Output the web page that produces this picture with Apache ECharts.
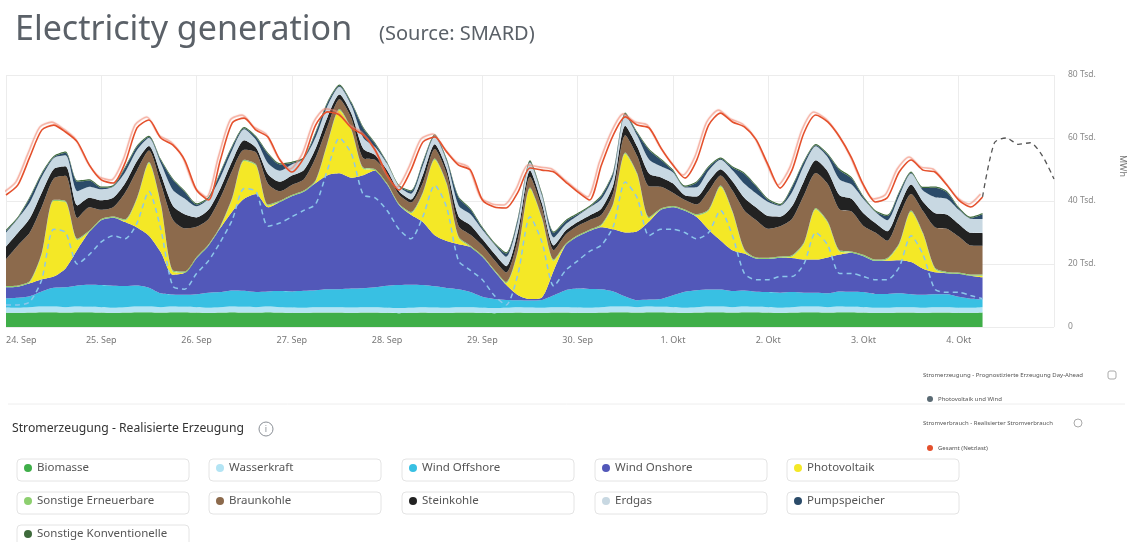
<!DOCTYPE html>
<html lang="de">
<head>
<meta charset="UTF-8">
<title>Electricity generation</title>
<script src="https://cdn.jsdelivr.net/npm/echarts@6.0.0/dist/echarts.min.js"></script>
<style>
  html, body { margin: 0; padding: 0; background: #fff; }
  #chart { width: 1134px; height: 542px; }
</style>
</head>
<body>
<div id="chart"></div>
<script>
// x axis: one category every 3 hours, 24 Sep 00:00 .. 5 Okt 00:00
var stepHours = 3;
var stepsPerDay = 8;
var dayLabels = ['24. Sep', '25. Sep', '26. Sep', '27. Sep', '28. Sep', '29. Sep', '30. Sep',
                 '1. Okt', '2. Okt', '3. Okt', '4. Okt', '5. Okt'];

// realisierte Erzeugung, Tsd. MWh
var biomasse = [4.5,4.5,4.6,4.7,4.7,4.6,4.7,4.7, 4.6,4.5,4.6,4.7,4.7,4.6,4.7,4.7, 4.6,4.5,4.6,4.7,4.6,4.6,4.7,4.6,
                4.5,4.5,4.6,4.6,4.6,4.5,4.6,4.6, 4.5,4.4,4.5,4.6,4.5,4.5,4.6,4.6, 4.5,4.4,4.5,4.6,4.5,4.5,4.6,4.6,
                4.5,4.5,4.6,4.7,4.7,4.6,4.7,4.7, 4.6,4.5,4.6,4.7,4.7,4.6,4.7,4.7, 4.6,4.5,4.6,4.7,4.7,4.6,4.7,4.7,
                4.6,4.5,4.5,4.6,4.6,4.5,4.6,4.6, 4.5,4.5,4.6];
var wasserkraft = [1.7,1.6,1.7,1.8,1.8,1.7,1.8,1.7, 1.7,1.6,1.7,1.8,1.8,1.7,1.8,1.7, 1.7,1.6,1.7,1.8,1.8,1.7,1.8,1.7,
                   1.7,1.6,1.7,1.7,1.7,1.7,1.7,1.7, 1.6,1.6,1.6,1.7,1.7,1.6,1.7,1.7, 1.6,1.6,1.6,1.7,1.7,1.6,1.7,1.7,
                   1.7,1.6,1.7,1.8,1.8,1.7,1.8,1.7, 1.7,1.6,1.7,1.8,1.8,1.7,1.8,1.7, 1.7,1.6,1.7,1.8,1.8,1.7,1.8,1.7,
                   1.7,1.6,1.6,1.7,1.7,1.6,1.7,1.7, 1.6,1.6,1.7];
var windOffshore = [2.9,3.2,3.5,4.8,6.0,6.3,6.7,7.0, 7.0,7.0,6.7,6.7,6.0,4.4,3.8,3.8, 4.1,4.8,4.8,5.1,5.1,4.8,4.8,5.1,
                    5.1,5.4,5.4,5.7,5.7,6.0,6.0,6.3, 7.0,7.3,7.3,7.0,6.7,6.3,5.7,4.8, 3.5,2.9,2.5,2.2,2.2,2.5,3.8,5.4,
                    6.0,6.0,5.7,4.8,3.2,2.2,2.2,2.5, 3.8,5.1,5.4,5.4,5.4,5.1,5.1,4.8, 4.8,4.8,4.8,4.4,4.4,4.4,4.8,4.8,
                    4.8,4.4,4.4,4.4,4.1,4.1,4.1,4.1, 3.5,2.9,2.5];
var windOnshore = [3.5,3.5,4.1,3.8,3.5,6.0,11.4,16.8, 20.6,21.6,20.3,18.4,16.5,13.0,6.3,7.0, 11.4,14.9,20.3,25.1,29.2,31.1,26.7,28.3,
                   30.2,31.4,34.0,36.2,36.8,35.2,35.9,37.1, 32.1,25.4,22.2,20.0,16.2,14.9,14.3,14.3, 12.7,8.9,4.8,1.6,0.5,0.8,7.9,14.3,
                   16.5,18.4,19.7,19.7,20.3,21.9,24.8,28.3, 27.9,25.7,23.2,19.0,15.6,13.0,11.7,10.5, 10.5,11.1,10.8,10.5,10.5,11.4,11.7,12.4,
                   11.4,10.5,10.5,10.5,10.2,8.3,7.0,6.7, 7.3,7.3,7.0];
var photovoltaik = [0,0,0.3,8,24,21,3,0, 0,0,0.5,9,23,15,1,0, 0,0,0.3,4,12,9,0.5,0,
                    0,0,0.5,10,20,15,2,0, 0,0,0.5,9,24,18,2,0, 0,0,0.5,14,35,25,3,0,
                    0,0,0.5,8,25,18,1,0, 0,0,0.5,6,17,12,1,0, 0,0,0.5,5,16,11,1,0,
                    0,0,0.5,5,16,11,1,0, 0,0,0.5];
var sonstErneuerbare = [0.4,0.4,0.4,0.4,0.4,0.4,0.4,0.4, 0.4,0.4,0.4,0.4,0.4,0.4,0.4,0.4, 0.4,0.4,0.4,0.4,0.4,0.4,0.4,0.4,
                        0.4,0.4,0.4,0.4,0.4,0.4,0.4,0.4, 0.4,0.4,0.4,0.4,0.4,0.4,0.4,0.4, 0.4,0.4,0.4,0.4,0.4,0.4,0.4,0.4,
                        0.4,0.4,0.4,0.4,0.4,0.4,0.4,0.4, 0.4,0.4,0.4,0.4,0.4,0.4,0.4,0.4, 0.4,0.4,0.4,0.4,0.4,0.4,0.4,0.4,
                        0.4,0.4,0.4,0.4,0.4,0.4,0.4,0.4, 0.4,0.4,0.4];
var braunkohle = [8.5,12.7,15.4,14.6,6.7,8.0,6.6,7.4, 2.9,2.9,8.4,8.7,3.6,6.4,16.1,13.7, 9.6,8.0,8.9,8.6,3.2,3.8,6.6,3.0,
                  3.2,3.5,7.1,5.1,3.1,3.5,3.0,3.0, 3.0,3.0,3.0,3.0,3.0,3.0,3.4,3.5, 3.2,3.1,3.0,3.7,3.4,3.0,3.0,3.0,
                  3.0,3.0,3.0,3.3,5.5,5.5,9.8,6.9, 4.2,3.0,3.1,5.9,3.2,6.5,12.3,11.8, 9.2,9.6,11.5,15.0,11.1,11.9,12.9,12.7,
                  9.2,8.6,5.5,8.5,5.2,6.9,12.9,13.7, 11.4,9.2,9.1];
var steinkohle = [4,4,4.5,4.5,3,3,4,3, 3,3,3,3,1.5,3,4.5,4.5, 3,3,3,3,3,1.5,3,3,
                  3,3,3,3,1.5,1.5,3,1.5, 1.2,1,1,2.5,1.5,1.5,3,3, 2,2,2,2.5,2,1.5,1.5,1.2,
                  1.2,1.5,2,2.5,3,3,4,3, 3,1.5,2.5,3,2,3,4,4, 4,3,4,4.5,4,4,4.5,4,
                  4,3,3,3,3,3,4.5,4.5, 4,4,4];
var erdgas = [4.5,4.5,5,5,3.5,3.5,4.5,3.5, 3.5,3.5,3.5,3.5,2.5,3.5,5,5, 3.5,3.5,3.5,3.5,3.5,2.5,3.5,3.5,
              3.5,3.5,3.5,3.5,2.5,2.5,3.5,2.5, 2,1.5,1.8,3,2.5,2.5,3.5,3.5, 3,3,3,3,2.5,2.5,2.5,2,
              2,2.5,3,3,3.5,3.5,4.5,3.5, 3.5,2.5,3,3.5,3,3.5,4.5,4.5, 4.5,3.5,4.5,5,4.5,4.5,5,4.5,
              4.5,3.5,3.5,3.5,3.5,3.5,5,5, 4.5,4.5,4.5];
var pumpspeicher = [0.5,0.2,1.5,1.0,0.3,0.8,3.0,2.0, 0.5,0.2,1.4,1.0,0.3,0.9,3.2,2.1, 0.6,0.2,1.5,1.1,0.3,0.8,2.9,2.0,
                    0.5,0.2,1.5,1.0,0.3,0.8,3.0,1.0, 0.3,0.2,0.8,1.0,0.3,0.5,2.5,1.5, 0.5,0.2,1.0,1.0,0.3,0.5,1.5,1.0,
                    0.5,0.2,1.0,1.0,0.3,0.8,3.0,2.0, 0.5,0.2,1.5,1.0,0.3,0.8,3.1,2.2, 0.6,0.2,1.6,1.1,0.3,0.8,3.0,2.0,
                    0.5,0.2,1.3,1.0,0.3,0.8,3.0,2.1, 0.5,0.2,1.5];
var sonstKonventionelle = [0.4,0.4,0.4,0.4,0.4,0.4,0.4,0.4, 0.4,0.4,0.4,0.4,0.4,0.4,0.4,0.4, 0.4,0.4,0.4,0.4,0.4,0.4,0.4,0.4,
                           0.4,0.4,0.4,0.4,0.4,0.4,0.4,0.4, 0.3,0.3,0.3,0.4,0.4,0.4,0.4,0.4, 0.4,0.4,0.4,0.4,0.4,0.4,0.4,0.4,
                           0.4,0.4,0.4,0.4,0.4,0.4,0.4,0.4, 0.4,0.4,0.4,0.4,0.4,0.4,0.4,0.4, 0.4,0.4,0.4,0.4,0.4,0.4,0.4,0.4,
                           0.4,0.4,0.4,0.4,0.4,0.4,0.4,0.4, 0.4,0.4,0.4];

// Prognose Day-Ahead Photovoltaik und Wind
var prognosePvWind = [7,7,8,15,31,30,20,23, 27,29,28,33,43,31,13,12, 17,21,27,34,44,43,32,33,
                      35,37,39,50,60,55,42,41, 37,31,28,35,45,38,21,18, 15,10,7,17,35,27,13,18,
                      21,24,26,32,46,41,29,31, 31,30,28,30,37,29,17,15, 15,16,16,20,30,26,17,17,
                      16,15,15,19,29,23,12,11, 11,10,9];
// Realisierter Stromverbrauch, Gesamt (Netzlast)
var netzlast = [41.9,45.1,54.0,62.5,64.1,61.9,58.7,51.4, 46.7,45.7,52.1,63.2,65.7,60.0,57.8,53.0, 43.5,40.3,53.0,64.8,66.3,62.5,60.3,53.0,
                49.2,53.7,64.1,68.3,67.3,63.2,61.0,56.2, 48.3,43.5,49.8,58.7,60.3,55.6,51.4,49.8, 40.3,38.1,37.8,42.9,50.5,49.8,49.2,46.0,
                42.9,40.3,51.4,61.0,66.7,64.1,63.2,56.8, 51.4,47.3,53.0,64.1,67.9,65.1,63.5,59.4, 51.4,44.1,49.8,61.6,67.3,65.1,60.3,53.7,
                45.1,39.7,41.0,49.2,53.0,49.8,49.2,45.1, 40.3,38.1,41.3];
// Verbrauchsprognose nach dem letzten Messwert (ab Index 82)
var prognoseStart = 82;
var prognoseNetzlast = [41.3, 58.5, 60.0, 58.0, 58.5, 54.5, 47.0];

var nSteps = dayLabels.length - 1;
var categories = [];
for (var i = 0; i <= nSteps * stepsPerDay; i++) {
  categories.push(dayLabels[Math.floor(i / stepsPerDay)] + ' ' + ((i % stepsPerDay) * stepHours) + ':00');
}
function isDayStart(index) { return index % stepsPerDay === 0; }

function padded(arr, start) {
  var out = [];
  for (var k = 0; k < start; k++) out.push('-');
  return out.concat(arr);
}

var stackSeries = [
  ['Biomasse', biomasse, '#3fae49'],
  ['Wasserkraft', wasserkraft, '#b3e4f4'],
  ['Wind Offshore', windOffshore, '#38c0e3'],
  ['Wind Onshore', windOnshore, '#5258b9'],
  ['Photovoltaik', photovoltaik, '#f4e826'],
  ['Sonstige Erneuerbare', sonstErneuerbare, '#8dcf6f'],
  ['Braunkohle', braunkohle, '#8c6a4c'],
  ['Steinkohle', steinkohle, '#222222'],
  ['Erdgas', erdgas, '#c8d8e2'],
  ['Pumpspeicher', pumpspeicher, '#2b4b69'],
  ['Sonstige Konventionelle', sonstKonventionelle, '#3e6a3b']
];

var series = stackSeries.map(function (s) {
  return {
    name: s[0], type: 'line', stack: 'erzeugung', data: s[1],
    smooth: 0.25, showSymbol: false, color: s[2],
    lineStyle: { width: 0 }, areaStyle: { color: s[2], opacity: 1 }
  };
});
series.push({
  name: 'Photovoltaik und Wind', type: 'line', data: prognosePvWind,
  smooth: 0.25, showSymbol: false, color: '#5a6a73',
  lineStyle: { color: '#8cc6ea', width: 1.5, type: [5, 4] }
});
series.push({
  name: 'Gesamt (Netzlast)', type: 'line', data: netzlast,
  smooth: 0.25, showSymbol: false, color: '#e4502c',
  lineStyle: { color: '#e4502c', width: 1.6, shadowColor: 'rgba(240,140,120,0.75)',
               shadowBlur: 1, shadowOffsetX: -2, shadowOffsetY: -3 }
});
series.push({
  name: 'Prognose Netzlast', type: 'line', data: padded(prognoseNetzlast, prognoseStart),
  smooth: 0.25, showSymbol: false, color: '#555',
  lineStyle: { color: '#555', width: 1.3, type: [5, 4] }
});

var font = 'Noto Sans';
var legendNames = ['Biomasse', 'Wasserkraft', 'Wind Offshore', 'Wind Onshore', 'Photovoltaik',
                   'Sonstige Erneuerbare', 'Braunkohle', 'Steinkohle', 'Erdgas', 'Pumpspeicher',
                   'Sonstige Konventionelle'];
var boxLeft = [17, 209, 402, 595, 787];
var rowMid = [470, 503, 536];

var legends = [];
var graphics = [
  { type: 'text', x: 15, y: 30, style: { text: 'Electricity generation', fontSize: 34, fontFamily: font, fill: '#5b6168', verticalAlign: 'middle' } },
  { type: 'text', x: 379, y: 34, style: { text: '(Source: SMARD)', fontSize: 20, fontFamily: font, fill: '#5b6168', verticalAlign: 'middle' } },
  { type: 'text', x: 1123, y: 166, rotation: -Math.PI / 2, style: { text: 'MWh', fontSize: 9, fontFamily: font, fill: '#777', align: 'center', verticalAlign: 'middle' } },
  { type: 'line', shape: { x1: 8, y1: 404, x2: 1125, y2: 404 }, style: { stroke: '#eeeeee', lineWidth: 1 } },
  { type: 'text', x: 12, y: 429, style: { text: 'Stromerzeugung - Realisierte Erzeugung', fontSize: 12.2, fontFamily: font, fill: '#333', verticalAlign: 'middle' } },
  { type: 'circle', shape: { cx: 266, cy: 429, r: 7 }, style: { fill: '#fff', stroke: '#8a8f96', lineWidth: 1 } },
  { type: 'text', x: 266, y: 429, style: { text: 'i', fontSize: 9, fontFamily: font, fill: '#8a8f96', align: 'center', verticalAlign: 'middle' } },
  { type: 'text', x: 923, y: 375, style: { text: 'Stromerzeugung - Prognostizierte Erzeugung Day-Ahead', fontSize: 6, fontFamily: font, fill: '#555', verticalAlign: 'middle' } },
  { type: 'rect', shape: { x: 1108, y: 371, width: 8, height: 8, r: 2 }, style: { fill: '#fff', stroke: '#aaa', lineWidth: 1 } },
  { type: 'text', x: 923, y: 423, style: { text: 'Stromverbrauch - Realisierter Stromverbrauch', fontSize: 6, fontFamily: font, fill: '#555', verticalAlign: 'middle' } },
  { type: 'circle', shape: { cx: 1078, cy: 423, r: 4 }, style: { fill: '#fff', stroke: '#aaa', lineWidth: 1 } }
];

legendNames.forEach(function (name, k) {
  var col = k % 5, row = Math.floor(k / 5);
  graphics.push({ type: 'rect', z: -1, shape: { x: boxLeft[col], y: rowMid[row] - 11, width: 172, height: 22, r: 4 },
                  style: { fill: '#fff', stroke: '#e4e4e4', lineWidth: 1 } });
  legends.push({ data: [name], left: boxLeft[col] + 7, top: rowMid[row] - 8, padding: 0,
                 icon: 'circle', itemWidth: 8, itemHeight: 8, itemGap: 6,
                 textStyle: { fontSize: 11.5, fontFamily: font, color: '#555' } });
});
legends.push({ data: ['Photovoltaik und Wind'], left: 927, top: 396, padding: 0, icon: 'circle',
               itemWidth: 6, itemHeight: 6, textStyle: { fontSize: 6, fontFamily: font, color: '#555' } });
legends.push({ data: ['Gesamt (Netzlast)'], left: 927, top: 445, padding: 0, icon: 'circle',
               itemWidth: 6, itemHeight: 6, textStyle: { fontSize: 6, fontFamily: font, color: '#555' } });

var chart = echarts.init(document.getElementById('chart'));
chart.setOption({
  backgroundColor: '#fff',
  animation: false,
  tooltip: { trigger: 'axis' },
  grid: { left: 6, right: 80, top: 75, bottom: 215 },
  legend: legends,
  xAxis: {
    type: 'category', boundaryGap: false, data: categories,
    axisLine: { show: false }, axisTick: { show: false },
    splitLine: { show: true, interval: function (index) { return isDayStart(index); }, lineStyle: { color: '#ececec' } },
    axisLabel: {
      color: '#777', fontSize: 9, fontFamily: font, margin: 9, alignMinLabel: 'left',
      interval: function (index) { return isDayStart(index) && index < nSteps * stepsPerDay; },
      formatter: function (value, index) { return dayLabels[index / stepsPerDay]; }
    }
  },
  yAxis: {
    type: 'value', position: 'right', min: 0, max: 80, interval: 20,
    axisLine: { show: false }, axisTick: { show: false },
    splitLine: { lineStyle: { color: '#ececec' } },
    axisLabel: {
      color: '#888', fontSize: 8.5, fontFamily: font, margin: 14,
      formatter: function (v) { return v === 0 ? '0' : v + ' Tsd.'; }
    }
  },
  graphic: graphics,
  series: series
});
</script>
</body>
</html>
